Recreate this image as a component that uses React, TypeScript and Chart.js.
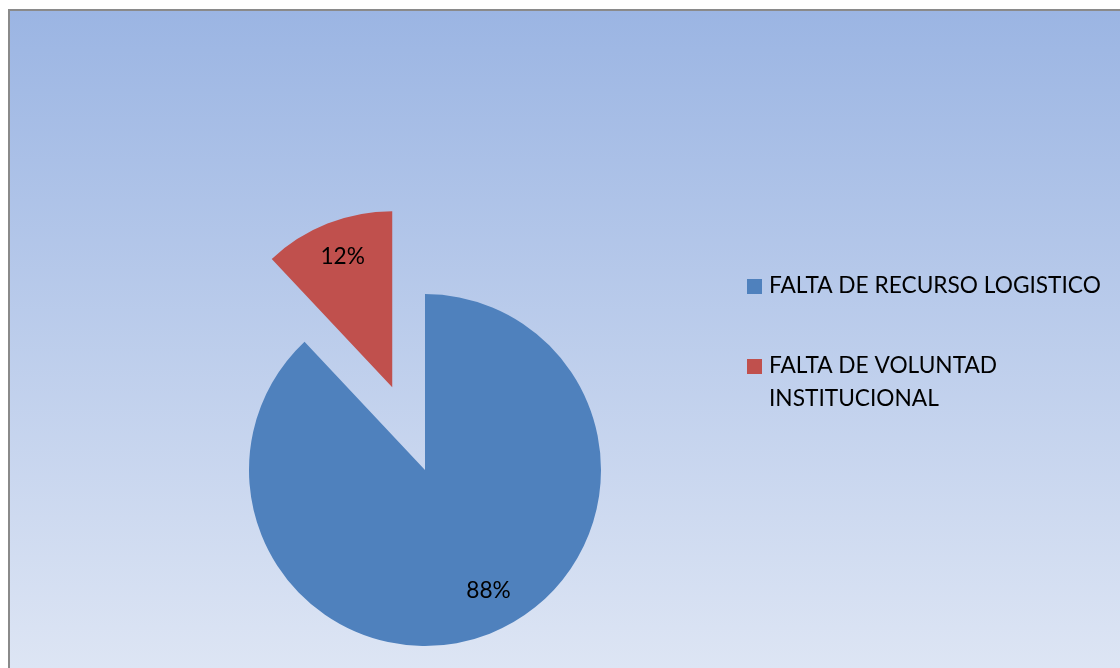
import { useEffect, useRef } from "react";
import { Chart, registerables } from "chart.js";

Chart.register(...registerables);

const categories = ["FALTA DE RECURSO LOGISTICO", "FALTA DE VOLUNTAD INSTITUCIONAL"];
const legendLines = [["FALTA DE RECURSO LOGISTICO"], ["FALTA DE VOLUNTAD", "INSTITUCIONAL"]];
const values = [88, 12];
const valueLabels = ["88%", "12%"];
const colors = ["#4F81BD", "#C0504D"];
const explode = [0, 89];

const FONT = "22.7px Lato";
// small best-fit style nudges for the data labels (pixels)
const LABEL_NUDGE = [
  [13, -7],
  [1, -3],
];

const backgroundPlugin = {
  id: "bgPlugin",
  beforeDraw(chart: any) {
    const { ctx, width, height } = chart;
    ctx.save();
    const g = ctx.createLinearGradient(0, 10, 0, height);
    g.addColorStop(0, "#9BB5E3");
    g.addColorStop(1, "#DDE5F4");
    ctx.fillStyle = g;
    ctx.fillRect(10, 11, width - 10, height - 11);
    ctx.fillStyle = "#8A8A8A";
    ctx.fillRect(8, 9, 2, height - 9);
    ctx.fillRect(8, 9, width - 8, 2);
    ctx.restore();
  },
};

const explodePlugin = {
  id: "explodePlugin",
  beforeDatasetDraw(chart: any, args: any) {
    const ctx = chart.ctx;
    const meta = args.meta;
    meta.data.forEach((arc: any, i: number) => {
      const mid = (arc.startAngle + arc.endAngle) / 2;
      const d = explode[i] || 0;
      ctx.save();
      ctx.translate(Math.cos(mid) * d, Math.sin(mid) * d);
      arc.draw(ctx);
      ctx.restore();
    });
    return false;
  },
};

const labelPlugin = {
  id: "labelPlugin",
  afterDatasetsDraw(chart: any) {
    const ctx = chart.ctx;
    const meta = chart.getDatasetMeta(0);
    ctx.save();
    ctx.font = FONT;
    ctx.fillStyle = "#000000";
    ctx.textAlign = "center";
    ctx.textBaseline = "middle";
    meta.data.forEach((arc: any, i: number) => {
      const mid = (arc.startAngle + arc.endAngle) / 2;
      const d = explode[i] || 0;
      const cx = arc.x + Math.cos(mid) * d;
      const cy = arc.y + Math.sin(mid) * d;
      const r = arc.outerRadius * 0.78;
      const n = LABEL_NUDGE[i] || [0, 0];
      ctx.fillText(valueLabels[i], cx + Math.cos(mid) * r + n[0], cy + Math.sin(mid) * r + n[1]);
    });
    ctx.restore();
  },
};

const legendPlugin = {
  id: "customLegend",
  afterDraw(chart: any) {
    const ctx = chart.ctx;
    ctx.save();
    ctx.font = FONT;
    ctx.textAlign = "left";
    ctx.textBaseline = "alphabetic";
    const startY = [293, 373];
    legendLines.forEach((lines, i) => {
      const base = startY[i];
      ctx.fillStyle = colors[i];
      ctx.fillRect(747, base - 14, 15, 15);
      ctx.fillStyle = "#000000";
      lines.forEach((ln, j) => {
        ctx.fillText(ln, 769, base + j * 33);
      });
    });
    ctx.restore();
  },
};

export default function App() {
  const ref = useRef<HTMLCanvasElement | null>(null);
  useEffect(() => {
    document.body.style.margin = "0";
    const canvas = ref.current!;
    const chart = new Chart(canvas, {
      type: "pie",
      data: {
        labels: categories,
        datasets: [
          {
            data: values,
            backgroundColor: colors,
            borderWidth: 0,
          },
        ],
      },
      options: {
        responsive: false,
        animation: false,
        devicePixelRatio: 1,
        radius: 176,
        layout: { padding: { left: 0, right: 270, top: 272, bottom: 0 } },
        plugins: {
          legend: { display: false },
          tooltip: { enabled: false },
        },
        events: [],
      } as any,
      plugins: [backgroundPlugin, explodePlugin, labelPlugin, legendPlugin],
    });
    return () => chart.destroy();
  }, []);
  return (
    <canvas
      ref={ref}
      width={1120}
      height={668}
      style={{ position: "fixed", left: 0, top: 0, width: 1120, height: 668 }}
    />
  );
}
